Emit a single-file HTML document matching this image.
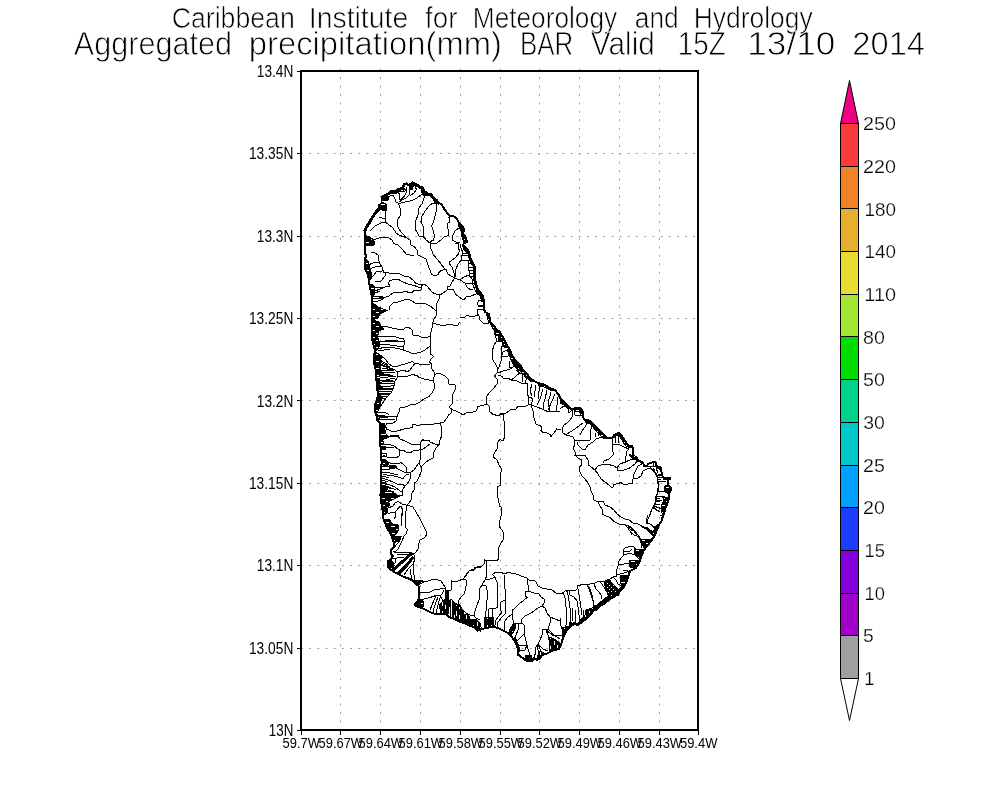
<!DOCTYPE html>
<html lang="en"><head><meta charset="utf-8">
<title>Aggregated precipitation(mm) BAR</title>
<style>
html,body{margin:0;padding:0;background:#fff;}
body{width:1000px;height:800px;overflow:hidden;}
svg{display:block;}
text{font-family:"Liberation Sans",sans-serif;fill:#000;}
.t1{font-size:29.65px;stroke:#fff;stroke-width:0.7px;}
.t2{font-size:32.6px;stroke:#fff;stroke-width:0.8px;}
.yl{font-size:15.6px;}
.xl{font-size:14.2px;}
.cl{font-size:18.2px;stroke:#fff;stroke-width:0.25px;}
.grid{stroke:#a0a0a0;stroke-width:1;fill:none;}
.ax{stroke:#000;stroke-width:1;fill:none;shape-rendering:crispEdges;}
.map{stroke:#000;stroke-width:1;fill:none;stroke-linejoin:round;stroke-linecap:square;shape-rendering:crispEdges;}
.map .blob{fill:#000;}
.map .bh{fill:url(#ph);}
.map .bv{fill:url(#pv);}
.map .bd{fill:url(#pd);}
.map .be{fill:url(#pe);}
.map .bs{fill:url(#ps);}
.map .thick{stroke-width:2;}
.map .thick3{stroke-width:3;}
.map .thick4{stroke-width:4;}
</style></head><body>
<svg width="1000" height="800" viewBox="0 0 1000 800" role="img" aria-label="Aggregated precipitation map of Barbados">
<rect x="0" y="0" width="1000" height="800" fill="#fff"/>
<defs>
<pattern id="ph" width="10" height="7" patternUnits="userSpaceOnUse"><rect width="10" height="7" fill="#000"/><rect x="1" y="1" width="4" height="1" fill="#fff"/><rect x="6" y="4" width="3" height="1" fill="#fff"/></pattern>
<pattern id="pv" width="7" height="10" patternUnits="userSpaceOnUse"><rect width="7" height="10" fill="#000"/><rect x="1" y="1" width="1" height="5" fill="#fff"/><rect x="4" y="5" width="1" height="4" fill="#fff"/></pattern>
<pattern id="pd" width="8" height="6" patternUnits="userSpaceOnUse" patternTransform="rotate(-60)"><rect width="8" height="6" fill="#000"/><rect x="1" y="1" width="4" height="1" fill="#fff"/><rect x="5" y="4" width="3" height="1" fill="#fff"/></pattern>
<pattern id="pe" width="8" height="6" patternUnits="userSpaceOnUse" patternTransform="rotate(50)"><rect width="8" height="6" fill="#000"/><rect x="1" y="1" width="4" height="1" fill="#fff"/><rect x="5" y="4" width="3" height="1" fill="#fff"/></pattern>
<pattern id="ps" width="4" height="4" patternUnits="userSpaceOnUse"><rect width="4" height="4" fill="#000"/><rect x="1" y="1" width="1" height="1" fill="#fff"/><rect x="3" y="3" width="1" height="1" fill="#fff"/></pattern>
</defs>
<g id="titles">
<text class="t1" y="27.6"><tspan x="171.65" textLength="123.10" lengthAdjust="spacingAndGlyphs">Caribbean</tspan> <tspan x="308.74" textLength="99.51" lengthAdjust="spacingAndGlyphs">Institute</tspan> <tspan x="425.03" textLength="32.37" lengthAdjust="spacingAndGlyphs">for</tspan> <tspan x="472.79" textLength="144.32" lengthAdjust="spacingAndGlyphs">Meteorology</tspan> <tspan x="634.82" textLength="43.93" lengthAdjust="spacingAndGlyphs">and</tspan> <tspan x="693.77" textLength="118.93" lengthAdjust="spacingAndGlyphs">Hydrology</tspan></text>
<text class="t2" y="54.8"><tspan x="73.84" textLength="158.16" lengthAdjust="spacingAndGlyphs">Aggregated</tspan> <tspan x="248.82" textLength="253.17" lengthAdjust="spacingAndGlyphs">precipitation(mm)</tspan> <tspan x="519.88" textLength="53.32" lengthAdjust="spacingAndGlyphs">BAR</tspan> <tspan x="590.85" textLength="64.01" lengthAdjust="spacingAndGlyphs">Valid</tspan> <tspan x="677.86" textLength="47.97" lengthAdjust="spacingAndGlyphs">15Z</tspan> <tspan x="747.30" textLength="87.99" lengthAdjust="spacingAndGlyphs">13/10</tspan> <tspan x="852.33" textLength="72.66" lengthAdjust="spacingAndGlyphs">2014</tspan></text>
</g>
<g id="grid" class="grid">
<line x1="340.5" y1="68.55" x2="340.5" y2="729" stroke-dasharray="2 6.467"/>
<line x1="380.5" y1="68.55" x2="380.5" y2="729" stroke-dasharray="2 6.467"/>
<line x1="420.5" y1="68.55" x2="420.5" y2="729" stroke-dasharray="2 6.467"/>
<line x1="460.5" y1="68.55" x2="460.5" y2="729" stroke-dasharray="2 6.467"/>
<line x1="500.5" y1="68.55" x2="500.5" y2="729" stroke-dasharray="2 6.467"/>
<line x1="539.5" y1="68.55" x2="539.5" y2="729" stroke-dasharray="2 6.467"/>
<line x1="579.5" y1="68.55" x2="579.5" y2="729" stroke-dasharray="2 6.467"/>
<line x1="619.5" y1="68.55" x2="619.5" y2="729" stroke-dasharray="2 6.467"/>
<line x1="659.5" y1="68.55" x2="659.5" y2="729" stroke-dasharray="2 6.467"/>
<line x1="301" y1="153.5" x2="697" y2="153.5" stroke-dasharray="2 6.17"/>
<line x1="301" y1="236.5" x2="697" y2="236.5" stroke-dasharray="2 6.17"/>
<line x1="301" y1="318.5" x2="697" y2="318.5" stroke-dasharray="2 6.17"/>
<line x1="301" y1="400.5" x2="697" y2="400.5" stroke-dasharray="2 6.17"/>
<line x1="301" y1="483.5" x2="697" y2="483.5" stroke-dasharray="2 6.17"/>
<line x1="301" y1="565.5" x2="697" y2="565.5" stroke-dasharray="2 6.17"/>
<line x1="301" y1="648.5" x2="697" y2="648.5" stroke-dasharray="2 6.17"/>
</g>
<g id="map" class="map">
<path class="blob bh" d="M364.5,235 372,239 375,242 374,245 366,245 365,240Z M378.5,205 383,202 386.5,205 386.5,210 384,211 380,208Z M381.5,196.5 386,194.5 389,196.5 388,200 384,201 381.5,200Z M391,190.5 396,190 398,192.5 394,194 391.5,193Z M397,189 403,187 405,189.5 402,191.5 398,191Z M409,185 412,183 413.5,186 412,190 409.5,189Z M421.5,190 425,191 429,193.5 427,195.5 422.5,195Z M433.5,198.5 437,200 438,202.5 434.5,202.5Z M458.5,223.5 462,225.5 464,229 463.5,231.5 461,231 459,227Z M461.5,233 464,235 466,238 467,242 464,242.5 462.5,238 461,235Z M462.5,245.5 466,247.5 468.5,250.5 469,253.5 466,252 464,250Z M373,303 378,307 387,310.5 380,314 378,318 372,320 371.5,311Z M372.5,320 379,322 381.5,327 383.5,329 379,331 378,335 372,335Z M369.5,284 373,285 375,288 374,295 371.5,295 370.5,290Z M365,259 368,261 369.5,266 371,272 372,278 369.5,280 368,275 365.5,270 364.5,265Z M476,291 479,290 481,293.5 480,294.5 476.5,294Z M480.5,295 483,296 484,301 482,301.5 480.5,298Z M486.5,314 489,314 490,319 489.5,322 488,320Z M493.5,328.5 496,329 500,332 501.5,335 494.5,335 495,332Z M372,335 377,335 379,341 380,345 378,349 375,351 374,347 372.5,341Z M374,354 378,353 383,357.5 380,359 381,365 380,369 381.5,371 384,375 380,376 376,377 375.5,369 373.5,361Z M376.5,378 380,379 379,385 383,387 380,389 377.5,391 376.5,387Z M378,395 383,397 380,403 380,407 378,411 376,415 374.5,409 375,405 376.5,401Z M498,335 501.5,335 504,339 503.5,341 499,340.5Z M504,342 506,343 508,347 506,348 503.5,345Z M507,349 510,350 512,355 514.5,359 518,363 521,366 523,370 527,374 530,378 534,381 532,382 528,379 524,375 520,371 516,368 513,364 510.5,359 509,354Z M538,383 544,384.5 550,388 555,390 550,390 544,387 539,386Z M560,398 563,401 567,405 571,409 568,408.5 564,405 560,403Z M574,408.5 580,408 582.5,411 583,417 581,415 579,411 575,411Z M584.5,420 589,420.5 592,423 595,426 599,430 603,434 607,438 604,439 600,435 596,431 593,427 590,424 586,423Z M612,438.5 614,435 619,432.5 622,436 625,441 629,446 632.5,446.5 630,448 626,446 623,442 620,437 617.5,435 614.5,437.5Z M376.5,415 384,415 385,417 380,418 378,420 376.5,420Z M380,423 385,424 384.5,428 380.5,428Z M379.5,429 385,430 385,433 379.5,433Z M379.5,435 387,435.5 388,437.5 384,439 379.5,439Z M379.5,440 383,440.5 383.5,444 381,445 379.5,444Z M381,446 386,447 385,450 381,449.5Z M382,459 386,460 389,463 388,465 383,465 381,463Z M389,465 396,465.5 396,467.5 389,467.5Z M381,482 386,483 386,485 381,485Z"/>
<path class="blob bh" d="M381,486 387,486.5 387,490 381,490Z M380.5,492.5 385,493 396,494 396,495 380.5,495Z M631,455 634,455 637,457.5 637.5,460 634,459.5 632,457.5Z M655.5,466 660.5,467 661,469.5 657,468.5Z M663,477.5 670.5,478.5 670,479.5 664,479.5Z M665,486 668,485 670.5,487 670.5,491 669,494 665.5,492.5 664.5,489.5Z M663,497.5 668.5,497 668.5,500 667,505 665,509 664,514 662,513 661.5,508 662,504 664,501Z M643,527 648,528 654,535 655,535 657,530 658,526.5 655,526.5 653.5,532Z M641,539 650,539 651,541 648,545 644,548 642,544Z M634,549 644,550 641,557 639,559 635,555Z M630,560 639,560 639,563 636,568 630,567 629,564Z M620,576 628,575 626,583 624,587 621,584Z M604,582 610,580 613,585 620,591 618,595 608,595 606,589Z M380.5,495 402,495 394,499 388,502 390,505 386,508 382,507 381,501Z M382.5,508 387,508 388,512 385,515 383,514Z M384,519 389,519.5 393,524 398,525 399,529 397,533 394,536 390,533 387,528 385,523Z M392,537 402,536 398,541 394.5,543 393.5,540Z M387.5,561.5 391,560 394,564 392,567 390,569 387.5,566Z M414,580.5 423,580.5 423,582.5 418,585 416,584Z M418.5,599 423,601 424,606 422,608 418,607 414.5,605 417,602Z"/>
<path class="blob bs" d="M603,600 608,596 610,593 615,593 619,592 614,597 610,599 605,603 600,607 596,611 594,609 598,604Z M605,582.5 610,581.5 615,586 618,590 615,593 610,592.5 607,588Z"/>
<path class="blob bv" d="M439,605 445,599 445.5,591 448,591 449,600 449,607 448,614.5 440,614 440,609Z M454,603 460,605 463,611 464,621 458,621 455,619 455,615Z M464,614 468,615 469,625 465,623.5Z M471,619 475,619 474,627 470,625.5Z M484.5,617 493,617 494,625 496,627.5 491,627 486,628 484,625Z M509,631 513,624 515,624 515,629 511,636Z M514,637 516,639 519,647 519,652 517.5,655 517,648 514,640Z M550,637 554,639 560,643 561,645 559,649 554,650 550,652 549,647Z M475,619 480,623 481.5,629 478,630.5 475,628Z M525,655 531,655 532,661 527,661 525,659Z M540,651 546,654 542,655 540,658 537,660 538,655Z M554,639 560,643 561,645 559,649 554,650 550,652 549,647Z M562,628 568,626 570,627 566,631 564,635 562,632Z M569,622 574,624 570,627Z M586,610 592,608 600,603 600,605 594,610 590,615 586,619 582,622 578,625 580,620 585,615Z"/>
<path class="thick" d="M365.5,255 365,245 364.5,237 364.5,230 M404,184 406.5,183.5 408,185.5 410,184.5 M439,203 441.5,204.5 445,210 447.5,213.5 450,216 454,216.5 457,219 458.5,222 459,225 460,226 M459,223.5 462,226 464,229 463.5,231.5 462,232.5 464,235 466,238 467,242 464,243 463,245 466,247.5 468,250 469.5,254 M366,255 365,260 364.5,265 365.5,270 368,275 369,280 369.5,285 370.5,290 371.5,295 371.5,302 372.5,305 372,311 371.5,319 372.5,325 372,335 M478.5,290 481,293.5 483,296 484,302 484,307 485,312 489,314 490,319 489.5,322 493,325 496,329 500,332 501.5,335 M372,335 372.5,341 374,347 375,351 374,355 373.5,361 374.5,365 375.5,369 376,373 375.5,377 376.5,381 376.5,387 377.5,391 378,396 376.5,401 375,405 374.5,409 376,415 M501.5,335 504,339 506,343 508,347 510,350 512,355 514.5,359 518,363 521,366 523,370 527,374 530,378 534,381 538,383 544,384.5 550,388 555,390 558,394 560,397 M560,398 563,401 567,405 571,409 574,408.5 580,408 582.5,411 583,417 584.5,420 589,420.5 592,423 595,426 599,430 603,434 607,438 612,438.5 614,435 619,432.5 622,436 625,441 629,446 632.5,446.5 633,451 632.5,455 M376.5,415 376.5,420 380,423 380.5,428 379.5,433 379.5,439 379.5,444 381,448 380.5,453 380.5,458 382,462 381,467 381.5,471 381,477 381,485 380.5,495 M630,455 634,458 637,457.5 638,461 643,462.5 644,466 647,466.5 648,464 653,462 656,462.5 656,466 660,467 M642,526.5 646,528.5 650,531.5 652.5,535 M655.5,466 660.5,467 661.5,472 663,477.5 670.5,478.5 667.5,480 668,485 670.5,487 670.5,491 669,494 668.5,500 667,505 665,509 664,514 663,515 M663,515 662,520 659,525 657,530 655,535 651,541 648,545 644,550 641,557 639,563 636,568 630,571 628,577 626,583 624,587 620,591 618,595 M380.5,495 381,501 382,507 383,513 383,518 385,523 387,528 390,533 392,537 393.5,542 394.5,547 391,550 390.5,553 393,556 391,559 387.5,561.5 387.5,566 391,570 396,573 400,575 M400,575 404,577 410,579 413,581 416,584 418.5,586 418.5,593 418.5,599 417,602 414.5,605 418,607 422,608 426,610 430,612 435,614 440,614 446,614.5 449,617 454,619 458,621 464,623 468,625 474,627 477,630 480,630.5 M478,630.5 482,629 486,628 491,627 496,627.5 500,629 504,631 508,633 511,636 514,640 516,644 518,648 518.5,652 518,655 M517.5,653 520,656 524,659 527,661 532,661 534,658 537,660 540,658 542,655 546,654 550,652 554,650 559,649 561,645 562,641 564,635"/>
<path class="thick3" d="M365,230.5 366.5,227 369.5,223 371,219.5 374,215 376,212 379,209 M382.5,197.5 385.5,195.5 388,194 391.5,192 396.5,191 398.5,189.5 402.5,188 404,185 M410,185 412.5,183 414.5,184 417,185 420,187.5 422.5,188 424,191.5 428,194 431,194.5 433,198 436,200 438.5,203 M469,254 470,258 471.5,262 474,266 475,270.5 474,275 474.5,279 475.5,283 476.5,287 478.5,291 480.5,294 481,296 M394,569 402,562 411,554 M399,573 406,566 412.5,558 M564,634.5 566,630.5 570,626.5 574,623.5 578,624.5 582,621.5 586,618.5 590,614.5 594,609.5 600,604.5 M600,605.5 605,602.5 610,598.5 614,596.5 619,591.5 622,587.5"/>
<path d="M378.5,206.5 381,203 382,197 M389,196.5 393,195 394.5,197.5 396,202 398.5,203.5 M398.5,193 400,195 399,199 401,199.5 404,196.5 406,193 406.5,188 M403,192 407,190 M410,190 409,195 406,198 402,200 400,201.5 M414.5,184 415.5,188 417,189 414,193 410,196 M398.5,203.5 405,202 412,200.5 417,198 421,195 422.5,194 M398.5,203.5 399.5,207 401,210 400.5,215 398,219 397.5,226 400,230.5 403,234 406,237 M379,217 385,219 386.5,223 393,228 396,233 400,235.5 406,237.5 410,240 411,245 414.5,247 417,250 418,255 M385,219 386,210 M370,231 375,226 381,223 386,222.5 M425.5,195.5 423.5,199 422,204 419,208 418,215 415.5,221.5 415.5,229.5 418,234 419.5,237 423,236 M437,203.5 432,203.5 429,206 425,211 421.5,217 421,221.5 423.5,227 423.5,235 423,236 426,240 430,243 430,247 432,251 433.5,255 M437,203.5 436,212 433.5,222 431.5,226 433.5,231 434.5,236 433.5,240 430.5,241.5 430,243 M430,243 436,243.5 441,240 444,237 448.5,235.5 448,229 447,224 449.5,222 449,217.5 450,216 M459,228 455,231 453,235 452.5,240 456,242 460,243 M368,236 374,240 380,237.5 388,237.5 392,240 393.5,243.5 398,245 403,250 406,254 410,255 M371,252 375,253 378,255 M460,244 461,248 463,253 461.5,256 461.5,260 468,260 468.5,265 469,271 469,275 472,279 473,285 474.5,289 476,292 M461.5,256 469,255.5 M463,253 469,253.5 M468.5,263 472.5,263 M469,267 474.5,267 M469,270 475,270 M469,273 475,273 M470,276.5 475,276.5 M472,280 475,280 M472.5,283 476,283.5 M473,287 477,287 M456,243.5 458.5,244 458,248 459.5,250 458.5,254 455,258 450,261.5 449.5,264 452,267 454,273 454.5,278 M461.5,260 458,264 456,269 455.5,275 454.5,278 M454.5,278 460,280 464,277 469,275 M460,280 465,283 472,283 M465,283 467,287 470,289.5 473,289 M418,255 420,256 426,259 428,265 431.5,274 434.5,276 438,274.5 439.5,271.5 445,269 M433.5,255 438,260 441,264 444,268 446.5,270 447.5,273.5 451,276 454.5,278 M454.5,278 460,280 M454.5,278 452,282 450,286 447.5,287 448,289.5 444.5,292 440,295 M448,289.5 453,289.5 455,293 456.5,295 460,297.5 M410,255 412,256 414,255"/>
<path d="M383.5,272 389,273 399,273.5 404,276 409,277 413,280 416,283.5 421,285 425,284.5 428,287 431,291 434,293.5 440,295 M378,255 378.5,260 380,264 382.5,268 383.5,272 M370,279 374,275 376,272 382.5,271 M368,265 373,263 379,262 M369,270 372,268 375,267 381,266 M375,282 381,281 385,276 385.5,273.5 M421,288 414,285.5 408,284 402,281.5 398,279 389.5,280.5 388.5,283 389.5,286 385,287 380,289 375,291 M421,288 422,285.5 M422,285.5 421,290 414,290.5 412,292.5 409,293 407,291.5 400,292.5 393,293 389,296 384,297.5 379,298 373,299 M373,302 380,300.5 384,298 M389.5,310 390,306 393,303 400,301.5 404,300 409,299.5 412,301 415,303 420,303.5 426,304 430,306 434,309 436,311 M440,295 439,299 437,303 436.5,308 436,311 436,316 434,319 432.5,323 432,328 431,332 430.5,335 M432.5,323 438,324.5 443,326 448,324.5 453,325 457.5,326 459,323 460,322 M383,326.5 388,327 394,328.5 400,329.5 403,330 405,328 409,327.5 412,330 413,335 M372,296 382,296 M372,299 382,298.5 M373,302 380,300.5 M374,288 379,287 384,287 M375,293 380,291 M460,298 464,300 466,297 471,296 476,294 479,293.5 M477.5,303 479,300.5 483,301 484,305 480,306 478,305 477.5,303 M478,306 483,307 M485,312 483,309 478,309.5 477.5,314 479,316 480,320 483,323 488,323.5 489.5,322 M460,317 464,317.5 467,315.5 473,317 476.5,315.5 479,316 M490,323 492,327 494.5,331 M491,324 493,324 M492,326.5 495,326.5 M430.5,335 431,341 430,346 431,350 430.5,354 433.5,356.5 431,359 429.5,362 431.5,364 432,369 434,372 434.5,375 433.5,380 434.5,385 434,389 432,393 429,396.5 424,399 420,402 416,404 410,405 407,406.5 400,408 399,412 397.5,415 M413,335 418,335.5 421,337 428,337 430.5,336 M376,336.5 386,336.5 393,336 399,338 403.5,339 405,342 404,345 403.5,348 404,350.5 408,351.5 412,353.5 417,353 421,352 425,350 429,347 430,346 M380,342 390,341 398,341.5 404,342 M380,341.5 390,340.5 398,341 M380,345 386,344.5 394,345.5 403,347 M378,349 385,347 393,347.5 400,349 404,350.5 M378,351 384,350 390,349 M375,352 380,355 385,359 389,364 393,366.5 398,366 403,364.5 408,363 412,361.5 415,363.5 419,364 424,364.5 430,364 M415,363.5 412,367 410,370 407,372 405,370.5 400,371 397,371.5 394,369.5 390,368 385,366 382,364.5 M382,368 393,370 M380,372 395,372.5 M380,374.5 386,375 390,374"/>
<path d="M397,371.5 398,377 M434.5,375 437,373 440,373.5 445,376 448,379 449,384 455,384.5 455.5,389 453,394 452.5,400 452,404 449,407 452,409.5 456,411 460,413 M452,409.5 451,413 449,415 M398,377 403,376.5 408,376 412,374.5 417,375.5 419,377.5 424,379 429,380 433.5,380 M398,377 395,381 394.5,385 393,389 391,393 387,397 384,401 380,407 378,411 M377,379 383,381 390,379 395,378.5 M377,382 382,382 394,381.5 M377,385 383,387 390,386.5 394,385 M378,389 385,390 392,389.5 M379,393 385,393.5 390,393 M379,396 386,396 M378,413 385,412.5 388,414 389,415 M380,360 388,365 M380,362 390,367 M380,365 392,369 M381,370 394,371 M380,376 393,375 M380,378 396,376 M378,380.5 393,380 M378,383.5 394,383 M379,388 393,388 M379,391 391,391.5 M380,394.5 389,395 M380,398 385,399 M495,335 497,341 494,345 492,352 493,360 496,365 498,369 497,373 494.5,376 497,379 497,384 493,389 489,393 486,398 486.5,404 484,405 478,406.5 476,411 472,412.5 466,413 463,415 M497,341 503,342 502,346 501,351 501.5,356 501,361 499.5,366 498,369 M502,346 506,348 M501.5,356 508,356 509,353 507,350 503,352 501.5,356 M510,361 509.5,367 512,368 515,365 M498,373 503,371 509,369.5 512,368 M498,375 502,376.5 504,379 508,378 511,380 516,380.5 521,383 525,383 526.5,379 524,375 520,373 517,375 514,378 511,380 M520,373 516,370 M522,375 523,382 M525,383 528,384 527,389 527,394 529,397 528,401 529,404.5 531,404.5 533,400 531,397 529,397 M532,384 530,391 532,396 M536,385 534,397 M540,387 538,395 539,399 M543,389 540,399 537,405 M547,390 545,399 543,405 544,409 M551,392 548,403 550,411"/>
<path d="M555,394 552,401 548,410 M558,397 557,405 556,411 M531,405 537,407 543,409.5 549,412 556,411 560,411.5 M486.5,404 489,406 490,412 494,415 M529,404.5 524,407 518,406 516,409 510,410 505,414 502,413 499,415 M531,405 533,411 534,415 M560,409 564,406 568,408 569,413 572,410 573,416 570,420 567,423 564,425 562.5,428 563,433 566,435 570,432 575,429 580,425 583,423 M574,409 574.5,415 581,416 M566,435 570,436 573,437 574.5,440 579,441 584,440 587,441 590,440 590,435 591,429 592,425 M580,435 582,431 585,427 587,423 M574.5,440 575,445 573,448 575,452 575.5,455 M577,442 578,445 582,449 585,450 588,445 593,442 596,439 600,437.5 603,438 M595,433 596,437 M598,431 599,436 M612,439 613,445 617,444 620,445 624,447 629,449 M613,445 612.5,451 614,455 M615,437 615.5,443 M618,436 618.5,443 M629,449 626,452 626.5,455 M385,417 390,416 397,416 M385,417.5 390,416.5 397,416.5 M397.5,415 397,416 396,421 393,423 387,423.5 385.5,426 386.5,429 392,431.5 397,431 404,429 408,428.5 412,427.5 413,424.5 416,425 418,426 422,424 426,424.5 434,424 440,423 444,422 447,418 448.5,415 M378,420 384,419.5 390,420 395,419 M440,423 441.5,428 442,435 440,440 439,444.5 435,444 430,442 429,440.5 425,441 423,439.5 420,443 420,449 418,451 414,450.5 410,453 406,452 403,450 400,451 399,456 397,457.5 387,457 383,455 M386.5,429 385,433 388,436 398,436 400,439 405,441 411,444 420,444.5 M390,435 398,435 M383,444 390,444.5 394,446 398,449 400,450.5 M386,447 393,447 M380.5,453 386,453.5 386.5,456 380.5,456 M439,444.5 436,448 434,452 433,458 429,460 425,463 421,467 421,472 419,477 417,481 414.5,483 414.5,489 412,493 411,495 M420,449 422,450 426,447 430,444 M420,449 421,455 420,460 419,463 416,467 414,470 410,473 407,472 406,467 403,464 401,462.5 398,464 390,463 385,462 M410,473 411,477 409,481 407,484 405,486 403,489 402,492 402.5,495 M419,463 421,467 M396,468 400,470 404,472 407,472 M380.5,466 389,466.5 389,469.5 383,470 380.5,469.5 M383,469 388,469.5 395,468 M383,474 389,475.5 394,476 398,477 403,478.5 406,475 409,474 M382,476 388,477.5 M382,478 388,480 393,482 397,484 402,484 405,486"/>
<path d="M382,480 387,481.5 M382,483 390,485 395,487 400,491 402,492 M386,487 393,489 M382,491 390,491 396,494 M382,472 390,473 398,475 M382,485 389,487 396,490 M382,489 388,490 394,492 M382,494 390,494.5 M503,415 504,421 504,428 505,436 503,441 500,439.5 497.5,442.5 498,447 495.5,451.5 493.5,455 494,457.5 497,460 499,465 501.5,468.5 500.5,475 500.5,485 498,486.5 497.5,491 497.5,495 M533.5,415 534.5,420 536,424 539,425.5 542,426.5 541,430.5 543,432.5 547,433 550,434.5 550.5,437 554,433 556.5,429 560,429.5 M575,455 578,458 581.5,460 581.5,465 579.5,467 579.5,471 582,476 585,479 588,483 590,487 591,491 593.5,496 594,500 598,502 600,506 602,509 602,514 605,515.5 610,517.5 614,521.5 619,524 625,524.5 628,528 631,533 632,535 M575,455 585,455.5 588,460 588,464.5 591,467 595,470 598,474 601,479 605,482 609,485 611,487 613,487 614,484.5 618,483.5 621,482.5 623,484 626,484.5 630,483.5 632,484 633,479 634,474 636,470 638,466 641,464.5 642,462 639,460 637,458 M575,455.5 585,456 M595,470 598,466 602,464.5 608,464.5 613,465.5 617,468 618,471 624,470 629,468.5 632,466 635,464 637,461 636,459 630,460 625,462 620,464 617,468 M603,463 604,461 609,459 612,456 613,455 M625,462 625,458 626.5,455 M633,479 638,478 641,476 643,471 647,469 650,468 653,470 656,473 657.5,477 658,484 659,489 657,495 656,500 655,505 652,509 650,515 648,519 646.5,523 650,524 653,527 655,529 M598,502 603,501.5 605,505 610,507 614,510 617,514 621,517 625,519 629,520 633,523 638,524 642,526 646,528 650,531 652,534 M647,466.5 653,467 653,463 M650,468 651,467 M660,475 657,475 M660,479 657.5,479 M655,498 660,498.5 M655,501 660,501.5 M654.5,504 660,504.5 M654,506 660,508 M653,507 660,512 M660,523 655,527 655,529 654,535 M626,525 630,527 634,531 637,535 M629,527.5 632,531 M630,527 633,530.5 M649,468 652,469 655,473 657,477 658,482 658,488 657,494 655.5,497 655,503 653,507 651,511 649.5,515 M653,468 655,471 M656,468 658,473 M658,475 662,474 M657.5,478 662.5,477 M658,481.5 666,481 M658.5,491 665,491 M656,496 665,497 M655.5,500 662,501"/>
<path d="M655,504 660,505 M653,508 660,512 M654,506 661,509 M648,515 647,518 646.5,522 650,524 653,526 656,526 659,525 M660,515 663,516 M626,525 631,527 635,531 640,538 641,543 642,548 M626,525 629,530 634,535 638,536.5 640,540 M623.5,550 625,548 630,546.5 634,547 636,550 M624,552 630,551 632,549 M623.5,550 624,555 621,558 619,561 618.5,565 617,569 616,573 617,576 613,577 610,579 M618.5,564.5 624,564 630,563 M624,555 630,553 634,555 M617,575 622,573.5 626,572.5 629,571 M623,571 628,570.5 M610,579 605,581 599,581 594,583.5 587,584.5 580,585 M587,584.5 590,589 592,595 M594,584 596,589 599,592 601,595 M599,581 602,584 605,589 M613,577 616,580 618,584 622,586 M391,570 395,565 M404,575 408,569 413,564 M411,495 412,499 409,503 407,505 413,507 416,512 420,519 423,525 426,531 426.5,535 424,538 420,540 418.5,544 419,548 416,552 413.5,554 M402.5,495 395,498 M395,503 398,501.5 402,504 406,505 406,511 405,517 406,523 405.5,527 407.5,530 406,534 404,536 402,541 400,545 398,549 395,552 M395,503 393,506 388,508 M399,507 401,506 402.5,510 401.5,516 401,522 401,525 M399.5,507 401.5,506.5 403,510 402,516 401.5,522 M399,507 397,510 395,512 391,512.5 388,514 M395,512 396,516 394,519 M394.5,547 398,543 401,539 M393,551 395,552 399,552.5 405,552.5 411,552.5 413.5,554 415,557 414.5,561 413,563 413.5,569 414,575 M395,552.5 411,553 M397,555 405,554.5 408,555 M391,559 397,558 404,557 M395,559 396,562 394,564 M410,569 411,575 M414,575 414,581 M411,575 411.5,579 M423,581.5 428,581 432,579.5 437,579.5 441,581 443,584 445,587 445,590 448,590.5 451,590 452,587 451.5,581 454,582 458,581 463,579 466,579.5 466.5,584 465.5,589 464,594 461,597 459,600 458,604 460,607 M463,579 466,576 469,571 474,569 477,567 480,567"/>
<path d="M418.5,593 424,592.5 430,592 434,590 440,589 445,588 M418.5,599 424,599 430,597.5 436,595.5 440,596 442,594 444,590 M440,596 442,599 444,603 445,607 M436,595.5 434,600 432,605 430,610 M438,597 436,602 434,608 433,612 M440,598 438.5,603 437,609 436,613 M450,599 452,600 455,604 459,605 462,609 466,613 470,615 474,616 476,618 480,620 M450,600 450,617 M452,601 452,618 M453.5,603 453.5,618 M474,616 475,611 477,605 479,600 480,595 M470,616 469,624 M479,589 480,591 M476,619 477,630 M497,495 498.5,499 499.5,506 501.5,507.5 501.5,513 500.5,519 499.5,521 499.5,527 502,530 503.5,532.5 503.5,539 500.5,544 498.5,548.5 498.5,559 497,560.5 484.5,560.5 484.5,559 M484.5,560.5 484,564 482,566 475,567.5 474,570 469,571 466,575 M487,560.5 486.5,569 487,575 M492,575 495,572.5 500,572.5 505,573.5 508,572.5 514,573.5 519,575 M466,575 464,578 M487,575 485,580 482,585 480,588 479,594 479.5,599 477,605 M485,580 490,579 495,577.5 493,575 M482,585 486,586 487,590 487,600 486.5,608 485,617 484.5,625 M495,577.5 497,582 497.5,590 497,600 497.5,607 495,609 492,608 489,609 488.5,617 488,625 M492,608 492,617 491.5,625 M505,575 504.5,585 505.5,593 505,600 505.5,608 505,614 502,617 498,622 497,627 M505,600 501,602 500.5,608 501.5,613 498,617 496,620 495,625 M519,575 522,576.5 527,578 529,580 534,580 536,582 538,586 542,588 547,589 552,590 556,593 560,594 M527,578 528,585 528.5,591 525,591.5 525,596 527,597.5 524,600 519,604 515,608 512.5,610 512.5,617 513.5,623 M528.5,591 534,593 539,594 541,597 544,599 544,603 542,606 538,608 534,611 530,613.5 525,616 522,619 521.5,623 M542,606 545,608 547,613 550,617 555,619 560,621 M550,617 550,623 548,629 543,629.5 542,635 540,640 538,644 535,649 536,655 M512.5,614 508,617 505,621 504,627 504,630 M521.5,623 524,625 524,631 525,637 527,645 529,652 530,655 M513.5,623 518,624 521.5,623 M518,624 518,630 516,635 515,639 M524,634 520,638 517,641 M516,644 522,646 526,645 M546,630 548,635 552,643 556,647 M548,629 554,635 560,639 M538,644 543,649 548,651"/>
<path d="M537,645 539,655 M560,618 560,625 M564,595 565.5,600 566,607 566,615 566,625 565,629 M568,595 569,601 570,608 570,615 570,623 M570,595 574,597 577,601 578,607 579,615 579,623 M579,595 580,601 581,608 582,615 M591,595 593,600 594,605 594.5,609 M572,608 572,620 M575,610 576,622 M583,610 584,618 M529,655 530,659 M534.5,655 535,659 M538,644 540,649 542,653 M546,630 548,635 549,640 549,647 M543,629.5 546,630 550,633 554,636 560,635 564,635 M517.5,653 520,651 525,650 527,645 M560,621 560.5,625 562,629 564,633 M560,594 562,593.5 565,591 570,590.5 575,591 577,589 577,585 580,585 M601,595 602,599 M592,595 593,601 594,606 M605,589 606,591 M588,612 585,614 M564,595 563,593.5 M568,595 567,591.5 M570,595 569.5,591 M579,595 578,589 577.5,585.5 M591,595 589,589 587,584.5 M460,413 463,415 M492.5,414 497,415.5 500,415 503.5,414"/>
</g>
<g id="frame">
<rect x="301" y="71" width="397" height="659" fill="none" stroke="#000" stroke-width="2" shape-rendering="crispEdges"/>
<g class="ax">
<line x1="301.5" y1="731" x2="301.5" y2="735"/>
<line x1="340.5" y1="731" x2="340.5" y2="735"/>
<line x1="380.5" y1="731" x2="380.5" y2="735"/>
<line x1="420.5" y1="731" x2="420.5" y2="735"/>
<line x1="460.5" y1="731" x2="460.5" y2="735"/>
<line x1="500.5" y1="731" x2="500.5" y2="735"/>
<line x1="539.5" y1="731" x2="539.5" y2="735"/>
<line x1="579.5" y1="731" x2="579.5" y2="735"/>
<line x1="619.5" y1="731" x2="619.5" y2="735"/>
<line x1="659.5" y1="731" x2="659.5" y2="735"/>
<line x1="698.5" y1="731" x2="698.5" y2="735"/>
<line x1="297" y1="71.5" x2="300" y2="71.5"/>
<line x1="297" y1="153.5" x2="300" y2="153.5"/>
<line x1="297" y1="236.5" x2="300" y2="236.5"/>
<line x1="297" y1="318.5" x2="300" y2="318.5"/>
<line x1="297" y1="400.5" x2="300" y2="400.5"/>
<line x1="297" y1="483.5" x2="300" y2="483.5"/>
<line x1="297" y1="565.5" x2="300" y2="565.5"/>
<line x1="297" y1="648.5" x2="300" y2="648.5"/>
<line x1="297" y1="730.5" x2="300" y2="730.5"/>
</g></g>
<g id="ylabels">
<text class="yl" x="256.78" y="77.0" textLength="36.56" lengthAdjust="spacingAndGlyphs">13.4N</text>
<text class="yl" x="248.97" y="159.4" textLength="44.37" lengthAdjust="spacingAndGlyphs">13.35N</text>
<text class="yl" x="256.78" y="241.8" textLength="36.56" lengthAdjust="spacingAndGlyphs">13.3N</text>
<text class="yl" x="248.97" y="324.2" textLength="44.37" lengthAdjust="spacingAndGlyphs">13.25N</text>
<text class="yl" x="256.78" y="406.6" textLength="36.56" lengthAdjust="spacingAndGlyphs">13.2N</text>
<text class="yl" x="248.97" y="489.0" textLength="44.37" lengthAdjust="spacingAndGlyphs">13.15N</text>
<text class="yl" x="256.78" y="571.4" textLength="36.56" lengthAdjust="spacingAndGlyphs">13.1N</text>
<text class="yl" x="248.97" y="653.8" textLength="44.37" lengthAdjust="spacingAndGlyphs">13.05N</text>
<text class="yl" x="268.80" y="736.2" textLength="24.49" lengthAdjust="spacingAndGlyphs">13N</text>
</g>
<g id="xlabels">
<text class="xl" x="282.49" y="747.9" textLength="37.52" lengthAdjust="spacingAndGlyphs">59.7W</text>
<text class="xl" x="318.59" y="747.9" textLength="44.47" lengthAdjust="spacingAndGlyphs">59.67W</text>
<text class="xl" x="358.59" y="747.9" textLength="44.47" lengthAdjust="spacingAndGlyphs">59.64W</text>
<text class="xl" x="398.59" y="747.9" textLength="44.47" lengthAdjust="spacingAndGlyphs">59.61W</text>
<text class="xl" x="438.59" y="747.9" textLength="44.47" lengthAdjust="spacingAndGlyphs">59.58W</text>
<text class="xl" x="478.59" y="747.9" textLength="44.47" lengthAdjust="spacingAndGlyphs">59.55W</text>
<text class="xl" x="517.59" y="747.9" textLength="44.47" lengthAdjust="spacingAndGlyphs">59.52W</text>
<text class="xl" x="557.59" y="747.9" textLength="44.47" lengthAdjust="spacingAndGlyphs">59.49W</text>
<text class="xl" x="597.59" y="747.9" textLength="44.47" lengthAdjust="spacingAndGlyphs">59.46W</text>
<text class="xl" x="637.59" y="747.9" textLength="44.47" lengthAdjust="spacingAndGlyphs">59.43W</text>
<text class="xl" x="679.94" y="747.9" textLength="37.52" lengthAdjust="spacingAndGlyphs">59.4W</text>
</g>
<g id="cbar" stroke="#000" stroke-width="1" shape-rendering="crispEdges">
<rect x="840.5" y="635.5" width="18.0" height="43.0" fill="#a0a0a0"/>
<rect x="840.5" y="593.5" width="18.0" height="42.0" fill="#a000c8"/>
<rect x="840.5" y="550.5" width="18.0" height="43.0" fill="#8200dc"/>
<rect x="840.5" y="507.5" width="18.0" height="43.0" fill="#1e3cff"/>
<rect x="840.5" y="465.5" width="18.0" height="42.0" fill="#00a0ff"/>
<rect x="840.5" y="422.5" width="18.0" height="43.0" fill="#00c8c8"/>
<rect x="840.5" y="379.5" width="18.0" height="43.0" fill="#00d28c"/>
<rect x="840.5" y="336.5" width="18.0" height="43.0" fill="#00dc00"/>
<rect x="840.5" y="294.5" width="18.0" height="42.0" fill="#a0e632"/>
<rect x="840.5" y="251.5" width="18.0" height="43.0" fill="#e6dc32"/>
<rect x="840.5" y="208.5" width="18.0" height="43.0" fill="#e6af2d"/>
<rect x="840.5" y="166.5" width="18.0" height="42.0" fill="#f08228"/>
<rect x="840.5" y="123.5" width="18.0" height="43.0" fill="#fa3c3c"/>
</g>
<g id="cbar-ends" stroke="#000" stroke-width="1">
<polygon points="840.5,123.5 849.5,80.5 858.5,123.5" fill="#f00082"/>
<polygon points="840.5,678.5 849.5,720.5 858.5,678.5" fill="#fff"/>
</g>
<g id="cbar-labels">
<text class="cl" x="864.3" y="685.1">1</text>
<text class="cl" x="863.12" y="642.4" textLength="10.72" lengthAdjust="spacingAndGlyphs">5</text>
<text class="cl" x="864.46" y="599.7" textLength="20.38" lengthAdjust="spacingAndGlyphs">10</text>
<text class="cl" x="864.46" y="557.0" textLength="20.38" lengthAdjust="spacingAndGlyphs">15</text>
<text class="cl" x="863.10" y="514.3" textLength="21.79" lengthAdjust="spacingAndGlyphs">20</text>
<text class="cl" x="863.10" y="471.6" textLength="21.79" lengthAdjust="spacingAndGlyphs">25</text>
<text class="cl" x="863.29" y="428.9" textLength="21.60" lengthAdjust="spacingAndGlyphs">30</text>
<text class="cl" x="863.10" y="386.3" textLength="21.79" lengthAdjust="spacingAndGlyphs">50</text>
<text class="cl" x="863.10" y="343.6" textLength="21.79" lengthAdjust="spacingAndGlyphs">80</text>
<text class="cl" x="864.35" y="300.9" textLength="31.58" lengthAdjust="spacingAndGlyphs">110</text>
<text class="cl" x="864.42" y="258.2" textLength="31.50" lengthAdjust="spacingAndGlyphs">140</text>
<text class="cl" x="864.42" y="215.5" textLength="31.50" lengthAdjust="spacingAndGlyphs">180</text>
<text class="cl" x="863.10" y="172.8" textLength="32.85" lengthAdjust="spacingAndGlyphs">220</text>
<text class="cl" x="863.10" y="130.1" textLength="32.85" lengthAdjust="spacingAndGlyphs">250</text>
</g>
</svg>
</body></html>
